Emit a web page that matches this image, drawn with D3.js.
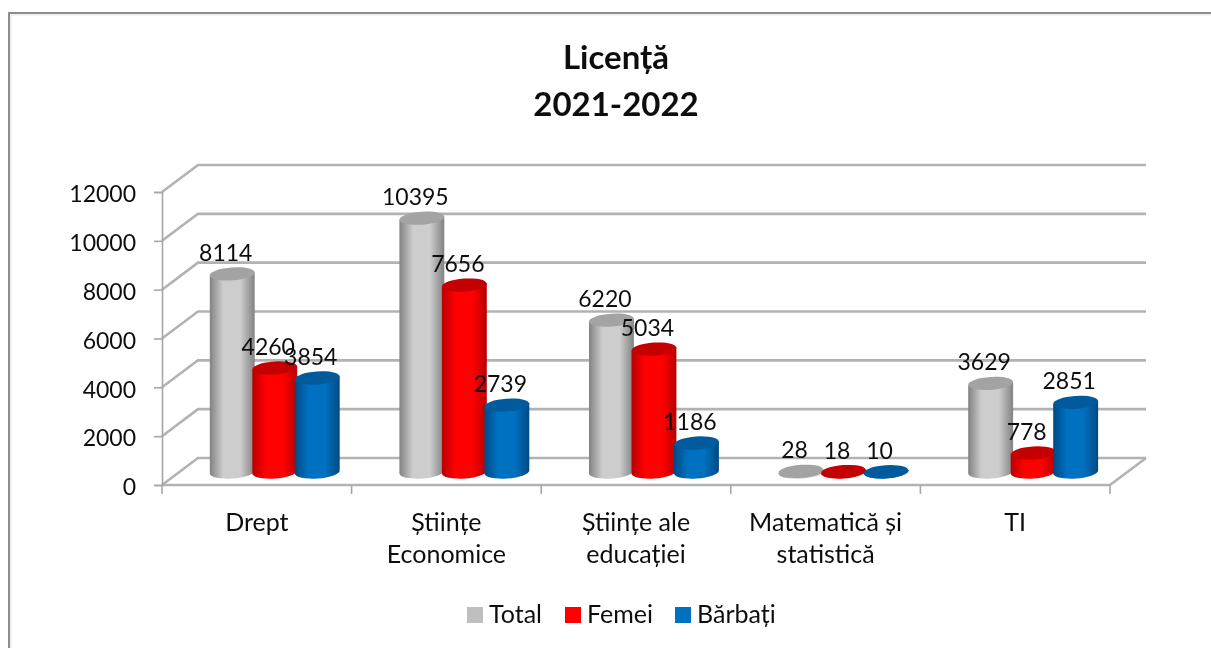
<!DOCTYPE html>
<html>
<head>
<meta charset="utf-8">
<script src="https://cdn.jsdelivr.net/npm/d3@7"></script>
<style>
  html, body { margin: 0; padding: 0; background: #fff; }
  svg { display: block; }
  text { font-family: Lato, Carlito, sans-serif; fill: #111; filter: url(#softText); }
</style>
</head>
<body>
<div id="chart"></div>
<script>
const categories = ["Drept", "Științe Economice", "Științe ale educației", "Matematică și statistică", "TI"];
const categoryLines = [["Drept"], ["Științe", "Economice"], ["Științe ale", "educației"], ["Matematică și", "statistică"], ["TI"]];
const seriesNames = ["Total", "Femei", "Bărbați"];
const total = [8114, 10395, 6220, 28, 3629];
const femei = [4260, 7656, 5034, 18, 778];
const barbati = [3854, 2739, 1186, 10, 2851];
const yTicks = [0, 2000, 4000, 6000, 8000, 10000, 12000];
const titleLines = ["Licență", "2021-2022"];

const width = 1211,
  height = 648,
  margin = ({ top: 192, right: 101, bottom: 163, left: 162 }),
  depth = ({ x: 36, y: 27 });

const values = [total, femei, barbati];
const colors = [
  { edge: "#828282", mid: "#cdcdcd", top: "#a3a3a3", flat: "#bfbfbf" },
  { edge: "#b80000", mid: "#ff0000", top: "#c40000", flat: "#ff0000" },
  { edge: "#004a82", mid: "#0070c0", top: "#005a9c", flat: "#0070c0" }
];

const x = d3.scaleBand()
  .domain(categories)
  .range([margin.left, width - margin.right]);

const y = d3.scaleLinear()
  .domain([0, 12000])
  .range([height - margin.bottom, margin.top]);

// the three cylinders overlap a little inside each category
const xs = d3.scaleBand()
  .domain(seriesNames)
  .range([49, 176.5]);

const svg = d3.select("#chart")
  .append("svg")
  .attr("width", width)
  .attr("height", height)
  .attr("viewBox", [0, 0, width, height]);

const defs = svg.append("defs");

defs.append("filter")
  .attr("id", "soft")
  .attr("x", "-10%").attr("y", "-10%")
  .attr("width", "120%").attr("height", "120%")
  .append("feGaussianBlur")
  .attr("stdDeviation", 0.65);

defs.append("filter")
  .attr("id", "softText")
  .append("feGaussianBlur")
  .attr("stdDeviation", 0.3);

colors.forEach((c, i) => {
  const grad = defs.append("linearGradient")
    .attr("id", `cyl${i}`)
    .attr("x1", 0).attr("x2", 1).attr("y1", 0).attr("y2", 0);
  grad.append("stop").attr("offset", "0%").attr("stop-color", c.edge);
  grad.append("stop").attr("offset", "30%").attr("stop-color", c.mid);
  grad.append("stop").attr("offset", "68%").attr("stop-color", c.mid);
  grad.append("stop").attr("offset", "100%").attr("stop-color", c.edge);
});

// chart frame, open to the right and the bottom of the picture
svg.append("path")
  .attr("d", `M9,${height}V13H${width}`)
  .attr("fill", "none")
  .attr("stroke", "#8c8c8c")
  .attr("stroke-width", 2);
svg.append("path")
  .attr("d", `M11,${height}V15H${width}`)
  .attr("fill", "none")
  .attr("stroke", "#e4e4e4")
  .attr("stroke-width", 1);

svg.append("g")
  .attr("text-anchor", "middle")
  .attr("font-size", 33)
  .selectAll("text")
  .data(titleLines)
  .join("text")
  .attr("x", 616)
  .attr("y", (d, i) => 69 + i * 47)
  .style("font-weight", 700)
  .text(d => d);

// walls and floor
const wall = svg.append("g")
  .attr("fill", "none")
  .attr("stroke", "#b2b2b2")
  .attr("stroke-width", 2.6)
  .attr("filter", "url(#soft)");

wall.selectAll(".grid")
  .data(yTicks)
  .join("path")
  .attr("class", "grid")
  .attr("d", d => `M${margin.left},${y(d)}l${depth.x},${-depth.y}H${width - margin.right + depth.x}`);

wall.append("path")
  .attr("d", `M${margin.left},${y(0)}H${width - margin.right}l${depth.x},${-depth.y}`);

const yAxis = g => g
  .attr("transform", `translate(${margin.left},0)`)
  .call(d3.axisLeft(y).tickValues(yTicks).tickFormat(d3.format("d")).tickSize(8).tickPadding(18))
  .call(g => g.selectAll("path,line").attr("stroke", "#a6a6a6").attr("stroke-width", 1.6))
  .call(g => g.selectAll("text").attr("font-size", 23).attr("font-family", null).attr("dy", "0.42em"));

const xAxis = g => g
  .attr("transform", `translate(0,${y(0)})`)
  .call(d3.axisBottom(x).tickSize(0))
  .call(g => g.select(".domain").remove())
  .call(g => g.selectAll("text").remove());

svg.append("g").call(yAxis);
const xg = svg.append("g").call(xAxis);

// ticks sit on the band edges, not the centres
xg.selectAll(".edge")
  .data(categories.map(d => x(d)).concat(x.range()[1]))
  .join("line")
  .attr("class", "edge")
  .attr("x1", d => d).attr("x2", d => d)
  .attr("y1", 0).attr("y2", 9)
  .attr("stroke", "#a6a6a6")
  .attr("stroke-width", 1.6);

xg.selectAll(".tick").each(function(d, i) {
  d3.select(this).selectAll("text")
    .data(categoryLines[i])
    .join("text")
    .attr("y", (l, j) => 46 + j * 32)
    .attr("text-anchor", "middle")
    .attr("font-size", 25)
    .attr("font-family", null)
    .text(l => l);
});

// cylinders
const rx = 22.5, ry = 6.5, tilt = 4;
const dx = rx * Math.cos(tilt * Math.PI / 180),
  dy = rx * Math.sin(tilt * Math.PI / 180);

const cx = (cat, s) => x(cat) + xs(s) + xs.bandwidth() / 2;
const topY = v => y(v) - 13;

const bar = svg.selectAll(".cat")
  .data(categories)
  .join("g")
  .attr("class", "cat")
  .attr("filter", "url(#soft)");

seriesNames.forEach((s, si) => {
  const g = bar.append("g");
  g.append("path")
    .attr("fill", `url(#cyl${si})`)
    .attr("d", (d, i) => {
      const c = cx(d, s), t = topY(values[si][i]), b = topY(0);
      return `M${c - dx},${t + dy}L${c - dx},${b + dy}A${rx},${ry},${-tilt},0,0,${c + dx},${b - dy}L${c + dx},${t - dy}Z`;
    });
  g.append("ellipse")
    .attr("fill", colors[si].top)
    .attr("rx", rx)
    .attr("ry", ry)
    .attr("transform", (d, i) => `translate(${cx(d, s)},${topY(values[si][i])}) rotate(${-tilt})`);
});

// data labels
seriesNames.forEach((s, si) => {
  svg.append("g")
    .attr("text-anchor", "middle")
    .selectAll("text")
    .data(categories)
    .join("text")
    .attr("x", d => cx(d, s) - 6.5)
    .attr("y", (d, i) => topY(values[si][i]) - 13)
    .attr("font-size", 23)
    .text((d, i) => values[si][i]);
});

// legend
const legendX = d3.scaleOrdinal().domain(seriesNames).range([467, 565, 675]);
const legend = svg.selectAll(".legend")
  .data(seriesNames)
  .join("g")
  .attr("class", "legend")
  .attr("transform", d => `translate(${legendX(d)},607)`);

legend.append("rect")
  .attr("width", 16)
  .attr("height", 16)
  .attr("fill", (d, i) => colors[i].flat)
  .attr("filter", "url(#soft)");

legend.append("text")
  .attr("x", 22)
  .attr("y", 16)
  .attr("font-size", 25)
  .text(d => d);
</script>
</body>
</html>
